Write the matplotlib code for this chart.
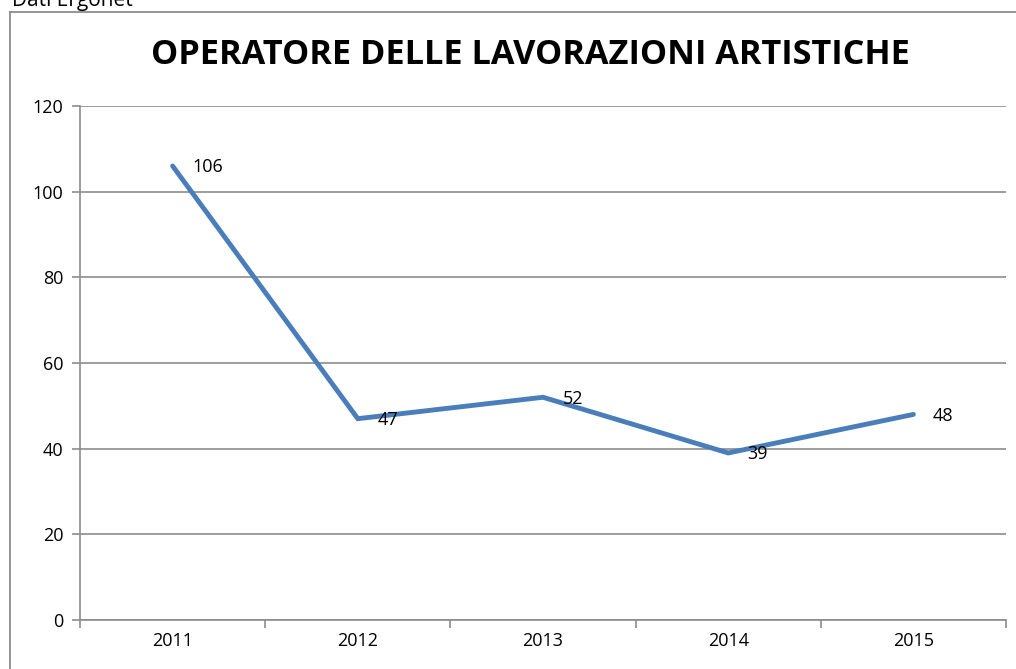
import matplotlib
matplotlib.use("Agg")
import matplotlib.pyplot as plt
from matplotlib.lines import Line2D

years = ["2011", "2012", "2013", "2014", "2015"]
values = [106, 47, 52, 39, 48]
yticks = [0, 20, 40, 60, 80, 100, 120]

plt.rcParams['font.family'] = ['Open Sans', 'DejaVu Sans']

W, H = 1016, 669
fig = plt.figure(figsize=(W / 100, H / 100), dpi=100)

# chart border (top and left only visible)
bc = "#8c8c8c"
fig.add_artist(Line2D([10 / W, 1.0], [1 - 12 / H, 1 - 12 / H], transform=fig.transFigure,
                      color=bc, linewidth=1.3))
fig.add_artist(Line2D([10 / W, 10 / W], [0, 1 - 12 / H], transform=fig.transFigure,
                      color=bc, linewidth=1.3))
fig.text(12 / W, 1 - 6 / H, "Dati Ergonet", fontsize=15, va="baseline", ha="left", color="black")

ax = fig.add_axes([80 / W, 1 - 620 / H, (1006 - 80) / W, (620 - 106) / H])
x = list(range(len(years)))
ax.plot(x, values, color="#4a7ebb", linewidth=3.5, solid_capstyle="round", solid_joinstyle="miter")
for xi, v in zip(x, values):
    ax.annotate(str(v), (xi, v), xytext=(14, -1), textcoords="offset points",
                ha="left", va="center", fontsize=13, color="black")

ax.set_xlim(-0.5, len(years) - 0.5)
ax.set_ylim(0, 120)
ax.set_yticks(yticks)
ax.set_yticklabels([str(t) for t in yticks])
ax.set_xticks(x)
ax.set_xticklabels(years)
ax.set_xticks([i - 0.5 for i in range(len(years) + 1)], minor=True)
ax.tick_params(axis="x", which="major", length=0, pad=9, labelsize=13)
ax.tick_params(axis="x", which="minor", length=6, color=bc, width=1.2, direction="out")
ax.tick_params(axis="y", length=6, color=bc, width=1.2, pad=6, labelsize=13)
ax.grid(axis="y", color=bc, linewidth=1.2)
ax.set_axisbelow(True)
for s in ["top", "right"]:
    ax.spines[s].set_visible(False)
for s in ["left", "bottom"]:
    ax.spines[s].set_color(bc)
    ax.spines[s].set_linewidth(1.2)

fig.text(530 / W, 1 - 55 / H, "OPERATORE DELLE LAVORAZIONI ARTISTICHE", fontsize=24.7,
         fontweight="bold", ha="center", va="center")

fig.savefig("out.png", dpi=100)
